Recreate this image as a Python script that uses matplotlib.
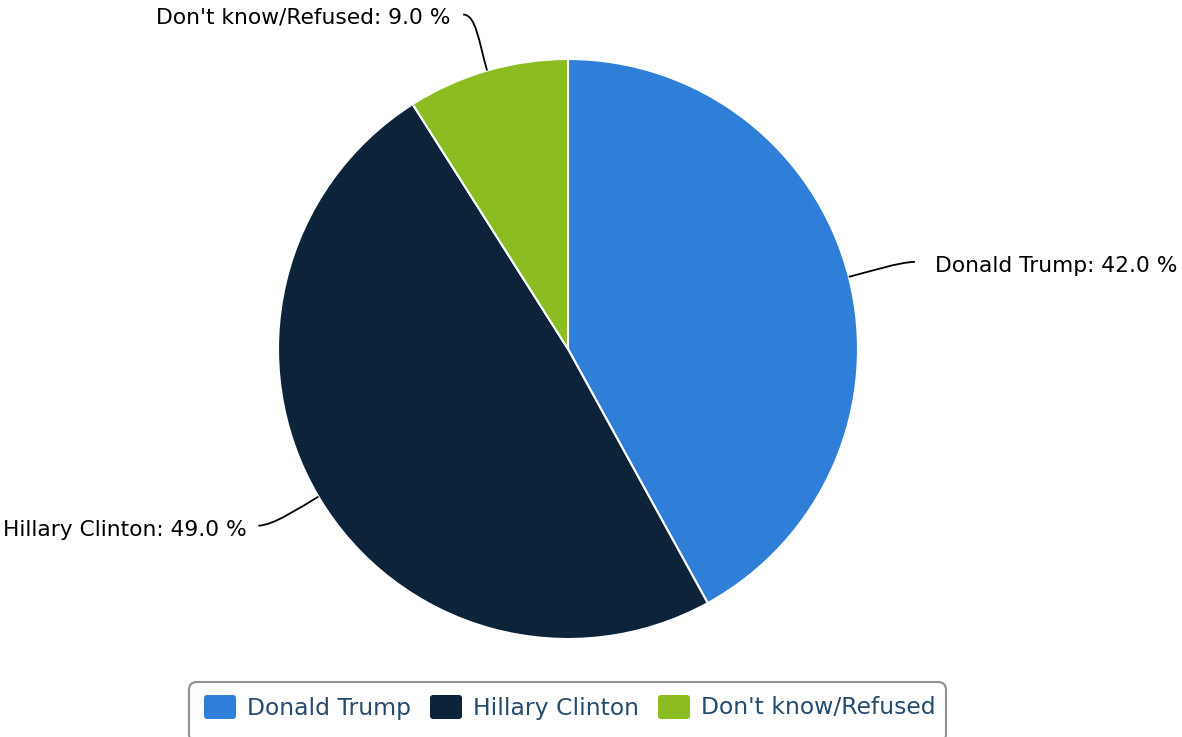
import matplotlib
matplotlib.use("Agg")
import matplotlib.pyplot as plt
import numpy as np
from matplotlib.path import Path
from matplotlib.patches import PathPatch, FancyBboxPatch

categories = ["Donald Trump", "Hillary Clinton", "Don't know/Refused"]
values = [42.0, 49.0, 9.0]
colors = ["#2f7ed8", "#0d233a", "#8bbc21"]

W, H = 1182, 737
fig = plt.figure(figsize=(W / 100, H / 100), dpi=100)
ax = fig.add_axes([0, 0, 1, 1])

cx, cy, R = 568, 349, 290
# y axis inverted: counterclock=True in data == clockwise on screen
wedges, _ = ax.pie(values, colors=colors, startangle=-90, counterclock=True,
                   center=(cx, cy), radius=R, frame=True,
                   wedgeprops=dict(edgecolor="white", linewidth=1.5))
ax.set_xlim(0, W)
ax.set_ylim(H, 0)
ax.set_aspect("auto")
ax.axis("off")

label_font = 15.7
# per-label layout: (end dx, end dy from edge point), text offset, alignment
layout = [
    dict(end=(66, -15), c1=20, c2=(-15, 0), text=(20, 4), ha="left"),
    dict(end=(-60, 29), c1=20, c2=(15, 0), text=(-12, 4), ha="right"),
    dict(end=(-24, -56), c1=30, c2=(13, 0), text=(-13, 3), ha="right"),
]
total = sum(values)
cum = 0.0
for cat, v, lay in zip(categories, values, layout):
    mid = (cum + v / 2) / total * 2 * np.pi
    cum += v
    # screen angle measured clockwise from top
    dx, dy = np.sin(mid), -np.cos(mid)
    sx, sy = cx + R * dx, cy + R * dy
    ex, ey = sx + lay["end"][0], sy + lay["end"][1]
    c1 = (sx + dx * lay["c1"], sy + dy * lay["c1"])
    c2 = (ex + lay["c2"][0], ey + lay["c2"][1])
    path = Path([(sx, sy), c1, c2, (ex, ey)],
                [Path.MOVETO, Path.CURVE4, Path.CURVE4, Path.CURVE4])
    ax.add_patch(PathPatch(path, fill=False, edgecolor="black", linewidth=1.3))
    ax.text(ex + lay["text"][0], ey + lay["text"][1], f"{cat}: {v:.1f} %",
            ha=lay["ha"], va="center", fontsize=label_font, color="black",
            family="DejaVu Sans")

# Legend
leg_font = 16.9
box = FancyBboxPatch((189, 682), 757, 60,
                     boxstyle="round,pad=0,rounding_size=8",
                     facecolor="white", edgecolor="#909090", linewidth=1.5)
ax.add_patch(box)
x = 204
renderer = fig.canvas.get_renderer()
for cat, col in zip(categories, colors):
    sq = FancyBboxPatch((x, 695), 32, 24, boxstyle="round,pad=0,rounding_size=3",
                        facecolor=col, edgecolor="none")
    ax.add_patch(sq)
    t = ax.text(x + 43, 708, cat, ha="left", va="center", fontsize=leg_font,
                color="#274b6d", family="DejaVu Sans")
    bb = t.get_window_extent(renderer=renderer)
    x = x + 43 + bb.width + 19

fig.savefig("out.png", dpi=100)
